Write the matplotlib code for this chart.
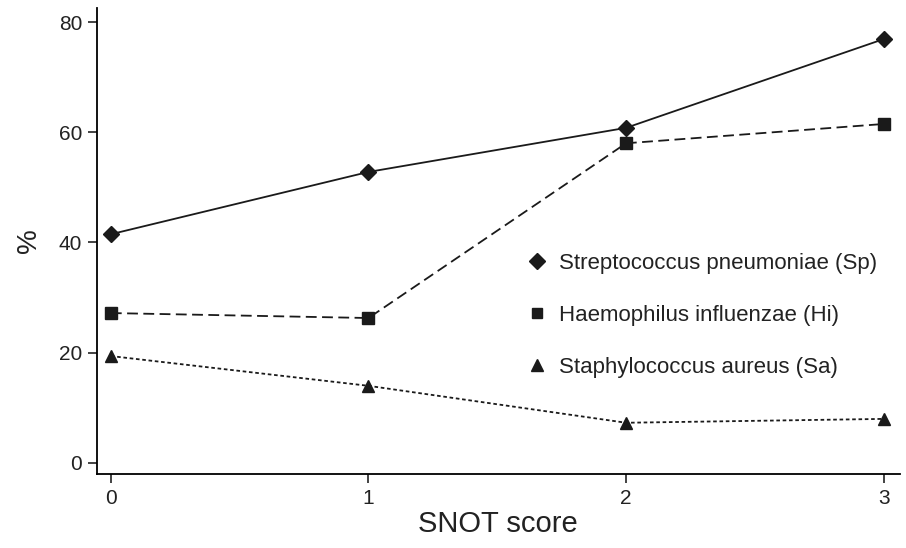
import matplotlib.pyplot as plt
from matplotlib.lines import Line2D

plt.rcParams['font.family'] = ['Liberation Sans', 'DejaVu Sans']

snot = [0, 1, 2, 3]
sp = [41.5, 52.8, 60.8, 76.9]
hi = [27.2, 26.3, 58.0, 61.5]
sa = [19.4, 14.0, 7.3, 8.0]
names = ['Streptococcus pneumoniae (Sp)', 'Haemophilus influenzae (Hi)', 'Staphylococcus aureus (Sa)']

fig = plt.figure(figsize=(9.06, 5.48), dpi=100)
ax = fig.add_axes([0.107, 0.135, 0.886, 0.85])

col = '#1a1a1a'
ax.plot(snot, sp, color=col, lw=1.3, ls='-', marker='D', ms=8, clip_on=False)
ax.plot(snot, hi, color=col, lw=1.3, ls=(0, (6, 3)), marker='s', ms=8.5, clip_on=False)
ax.plot(snot, sa, color=col, lw=1.3, ls=(0, (2, 1.5)), marker='^', ms=8.5, clip_on=False)

ax.set_xlim(-0.054, 3.062)
ax.set_ylim(-2.0, 82.5)
ax.set_xticks(snot)
ax.set_yticks([0, 20, 40, 60, 80])
ax.tick_params(length=6.5, width=1.2, labelsize=15, colors='#222222', direction='out', pad=4)
ax.spines['top'].set_visible(False)
ax.spines['right'].set_visible(False)
for s in ['left', 'bottom']:
    ax.spines[s].set_linewidth(1.3)
ax.set_xlabel('SNOT score', fontsize=21, color='#222222', labelpad=2)
ax.set_ylabel('%', fontsize=20, color='#222222', labelpad=12)

handles = [Line2D([], [], color=col, ls='none', marker=m, ms=z) for m, z in [('D', 8), ('s', 7.5), ('^', 8.5)]]
ax.legend(handles, names, loc='upper left', bbox_to_anchor=(0.507, 0.518), frameon=False,
          fontsize=16, labelspacing=1.4, handletextpad=0.4, handlelength=1.2, labelcolor='#222222')

fig.savefig('out.png', dpi=100)
